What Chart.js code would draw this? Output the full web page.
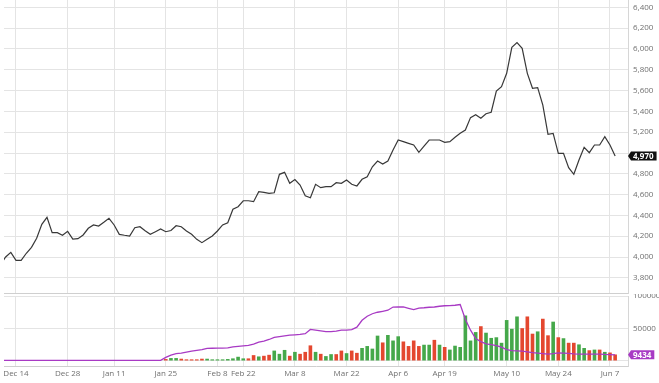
<!DOCTYPE html>
<html>
<head>
<meta charset="utf-8">
<script src="https://cdn.jsdelivr.net/npm/chart.js@4.4.0/dist/chart.umd.min.js"></script>
<style>
  html, body { margin: 0; padding: 0; background: #fff; }
  #wrap { position: relative; width: 659px; height: 383px; overflow: hidden; }
  #top { position: absolute; left: 0; top: 0; }
  #bot { position: absolute; left: 0; top: 294px; }
</style>
</head>
<body>
<div id="wrap">
  <canvas id="top" width="659" height="294"></canvas>
  <canvas id="bot" width="659" height="89"></canvas>
</div>
<script>
// trading days, Dec 9 .. Jun 8
var dates = [
  'Dec 9','Dec 10','Dec 11','Dec 14','Dec 15','Dec 16','Dec 17','Dec 18','Dec 21','Dec 22','Dec 23','Dec 24','Dec 25','Dec 28','Dec 29','Dec 30','Dec 31',
  'Jan 4','Jan 5','Jan 6','Jan 7','Jan 8','Jan 11','Jan 12','Jan 13','Jan 14','Jan 15','Jan 18','Jan 19','Jan 20','Jan 21','Jan 22','Jan 25','Jan 26','Jan 27','Jan 28','Jan 29',
  'Feb 1','Feb 2','Feb 3','Feb 4','Feb 5','Feb 8','Feb 9','Feb 10','Feb 18','Feb 19','Feb 22','Feb 23','Feb 24','Feb 25','Feb 26',
  'Mar 1','Mar 2','Mar 3','Mar 4','Mar 5','Mar 8','Mar 9','Mar 10','Mar 11','Mar 12','Mar 15','Mar 16','Mar 17','Mar 18','Mar 19','Mar 22','Mar 23','Mar 24','Mar 25','Mar 26','Mar 29','Mar 30','Mar 31',
  'Apr 1','Apr 2','Apr 6','Apr 7','Apr 8','Apr 9','Apr 12','Apr 13','Apr 14','Apr 15','Apr 16','Apr 19','Apr 20','Apr 21','Apr 22','Apr 23','Apr 26','Apr 27','Apr 28','Apr 29','Apr 30',
  'May 6','May 7','May 10','May 11','May 12','May 13','May 14','May 17','May 18','May 19','May 20','May 21','May 24','May 25','May 26','May 27','May 28','May 31',
  'Jun 1','Jun 2','Jun 3','Jun 4','Jun 7','Jun 8'
];

var xLabels = ['Dec 14','Dec 28','Jan 11','Jan 25','Feb 8','Feb 22','Mar 8','Mar 22','Apr 6','Apr 19','May 10','May 24','Jun 7'];

var price = [
  3930,4000,4045,3968,3968,4036,4093,4180,4314,4382,4234,4234,4209,4247,4173,4176,4212,
  4276,4308,4298,4334,4372,4308,4218,4209,4202,4282,4291,4253,4218,4243,4269,4243,4255,4301,4291,4250,
  4218,4170,4138,4170,4202,4250,4308,4330,4459,4484,4541,4541,4532,4628,4622,
  4612,4618,4795,4814,4709,4744,4692,4589,4570,4699,4667,4676,4676,4714,4708,4740,4699,4683,4747,4772,4868,4923,4894,
  4923,5029,5125,5109,5093,5077,5007,5067,5125,5125,5125,5103,5109,5151,5189,5221,5340,5368,5334,5378,5392,
  5596,5638,5766,6016,6061,6007,5766,5622,5628,5461,5180,5189,4997,4997,4859,4795,4933,5055,
  5003,5077,5077,5157,5077,4970
];

var volume = [
  null,null,null,null,null,null,null,null,null,null,null,null,null,null,null,null,null,
  null,null,null,null,null,null,null,null,null,null,null,null,null,null,null,3000,4500,4500,3500,2500,
  2500,2500,3500,3500,2500,2500,2500,3000,4000,6500,4000,4000,9000,7000,8000,
  9500,16000,11000,17000,8000,14000,11000,14000,24000,14000,11000,7500,10500,10500,16000,12000,16000,12500,20000,23000,19000,39000,28500,
  40000,31500,38000,30000,23000,31500,23000,25000,25000,32500,25000,21500,17500,23500,21500,70000,31500,44500,53500,43500,35500,
  36500,28000,63000,49500,68500,50500,68500,42000,45500,65000,39500,60500,36500,35000,28000,28000,25500,20000,
  16500,17500,17500,14000,13000,10000
];

// 1 = up day (green), 0 = down day (red)
var volUp = [
  0,0,0,0,0,0,0,0,0,0,0,0,0,0,0,0,0,
  0,0,0,0,0,0,0,0,0,0,0,0,0,0,0,0,1,1,0,0,
  0,0,0,1,1,1,1,1,1,1,1,0,0,1,0,
  0,1,1,1,0,1,0,0,0,1,0,1,1,0,0,1,0,0,1,1,1,1,0,
  1,1,1,0,0,0,0,1,1,0,1,0,1,1,1,1,1,1,0,1,1,
  1,1,1,1,1,0,0,0,1,0,0,1,0,1,0,0,1,1,
  0,1,0,1,0,0
];

var volLine = [
  1000,1000,1000,1000,1000,1000,1000,1000,1000,1000,1000,1000,1000,1000,1000,1000,1000,
  1000,1000,1000,1000,1000,1000,1000,1000,1000,1000,1000,1000,1000,1000,1000,5500,9000,11300,12100,13600,
  15200,16400,17500,19300,19600,19800,19800,20100,21800,22600,23300,24100,25900,29000,30500,
  33100,36200,37400,38500,39700,40300,41000,42000,48500,47400,46300,45100,45100,45900,47400,47400,48200,52000,62700,68900,72700,75000,76500,
  78100,83000,83100,83100,81100,79200,81500,81900,82700,83100,84200,85000,85300,85800,86800,64300,47400,34400,29800,26400,25200,
  23600,21300,17500,16000,15600,15200,14100,12900,12100,11400,10600,11400,12600,12100,11700,10900,10600,10600,
  10600,10600,10600,10100,9800,9434
];

var priceTicks = [3800,4000,4200,4400,4600,4800,5000,5200,5400,5600,5800,6000,6200,6400];
var volTicks = [0,50000,100000];

Chart.defaults.font.family = '"Open Sans", sans-serif';
Chart.defaults.font.size = 8;
Chart.defaults.color = '#707070';

var gridColor = '#e4e4e4';
var xMin = 0.677, xMax = 121.49;
var labelIdx = xLabels.map(function (l) { return dates.indexOf(l); });

function pts(arr) {
  return arr.map(function (v, i) { return { x: i, y: v }; });
}

function xAxis(showLabels) {
  return {
    type: 'linear',
    offset: false,
    min: xMin,
    max: xMax,
    afterBuildTicks: function (s) { s.ticks = labelIdx.map(function (v) { return { value: v }; }); },
    afterFit: function (s) {
      s.height = showLabels ? 17 : 1;
      s.paddingLeft = 0; s.paddingRight = 0;
    },
    grid: { color: gridColor, drawTicks: false, offset: false },
    border: { color: '#cfcfcf' },
    ticks: {
      display: showLabels, autoSkip: false, maxRotation: 0, padding: 3,
      callback: function (v) { return dates[v]; }
    }
  };
}

// hide the tick text where the last-value tag sits
function yAxis(min, max, tickVals, fmt, hidden) {
  return {
    position: 'right',
    min: min,
    max: max,
    afterBuildTicks: function (s) { s.ticks = tickVals.map(function (v) { return { value: v }; }); },
    afterFit: function (s) {
      s.width = 31;
      s.paddingTop = 0; s.paddingBottom = 0;
    },
    grid: { color: gridColor, drawTicks: false },
    border: { color: '#d6d6d6' },
    ticks: { padding: 5, callback: function (v) { return v === hidden ? '' : fmt(v); } }
  };
}

// label box at the last value, pointing into the plot
var lastTag = {
  id: 'lastTag',
  afterDraw: function (chart, args, opts) {
    var data = chart.data.datasets[opts.dataset].data;
    var last = data[data.length - 1].y;
    var ctx = chart.ctx;
    var x = chart.chartArea.right;
    var y = chart.scales.y.getPixelForValue(last);
    var text = opts.format(last);
    ctx.save();
    ctx.font = 'bold 8px "Open Sans", sans-serif';
    var w = ctx.measureText(text).width + 5;
    var h = 9;
    ctx.fillStyle = opts.color;
    ctx.beginPath();
    ctx.moveTo(x, y);
    ctx.lineTo(x + 3, y - h / 2);
    ctx.lineTo(x + 3 + w, y - h / 2);
    ctx.lineTo(x + 3 + w, y + h / 2);
    ctx.lineTo(x + 3, y + h / 2);
    ctx.closePath();
    ctx.fill();
    ctx.fillStyle = '#fff';
    ctx.textBaseline = 'middle';
    ctx.textAlign = 'left';
    ctx.fillText(text, x + 5, y + 0.5);
    ctx.restore();
  }
};

var fmtPrice = function (v) { return v.toLocaleString('en-US'); };
var fmtVol = function (v) { return String(v); };

var priceChart = new Chart(document.getElementById('top').getContext('2d'), {
  type: 'line',
  data: {
    datasets: [{
      data: pts(price),
      borderColor: '#383838',
      borderWidth: 1.2,
      pointRadius: 0,
      tension: 0
    }]
  },
  options: {
    responsive: false,
    animation: false,
    devicePixelRatio: 1,
    layout: { padding: { left: 4, top: 0, right: 0, bottom: 0 } },
    plugins: {
      legend: { display: false },
      tooltip: { enabled: false },
      lastTag: { dataset: 0, color: '#111', format: fmtPrice }
    },
    scales: {
      x: xAxis(false),
      y: yAxis(3654, 6471, priceTicks, fmtPrice, 5000)
    }
  },
  plugins: [lastTag]
});

var volChart = new Chart(document.getElementById('bot').getContext('2d'), {
  type: 'bar',
  data: {
    datasets: [{
      type: 'line',
      data: pts(volLine),
      borderColor: '#a83ac4',
      borderWidth: 1.3,
      pointRadius: 0,
      tension: 0,
      order: 0
    }, {
      type: 'bar',
      data: pts(volume),
      backgroundColor: volUp.map(function (u) { return u ? '#45a84a' : '#e4472f'; }),
      barPercentage: 0.7,
      categoryPercentage: 1,
      order: 1
    }]
  },
  options: {
    responsive: false,
    animation: false,
    devicePixelRatio: 1,
    layout: { padding: { left: 4, top: 2, right: 0, bottom: 0 } },
    plugins: {
      legend: { display: false },
      tooltip: { enabled: false },
      lastTag: { dataset: 0, color: '#a83ac4', format: fmtVol }
    },
    scales: {
      x: xAxis(true),
      y: yAxis(-7700, 100000, volTicks, fmtVol, 0)
    }
  },
  plugins: [lastTag]
});
</script>
</body>
</html>
